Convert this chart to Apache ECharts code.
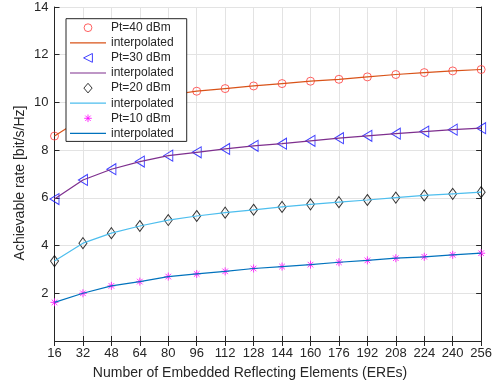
<!DOCTYPE html>
<html>
<head>
<meta charset="utf-8">
<script src="https://cdn.jsdelivr.net/npm/echarts@6/dist/echarts.min.js"></script>
<style>html,body{margin:0;padding:0;background:#fff}#c{width:495px;height:388px}</style>
</head>
<body>
<div id="c"></div>
<script>
const elements = [16, 32, 48, 64, 80, 96, 112, 128, 144, 160, 176, 192, 208, 224, 240, 256];
const pt40 = [8.59, 9.35, 9.75, 10.05, 10.3, 10.47, 10.58, 10.69, 10.79, 10.89, 10.97, 11.07, 11.17, 11.25, 11.32, 11.38];
const pt30 = [5.95, 6.75, 7.2, 7.52, 7.77, 7.91, 8.05, 8.18, 8.27, 8.39, 8.5, 8.6, 8.69, 8.78, 8.86, 8.92];
const pt20 = [3.35, 4.1, 4.52, 4.82, 5.07, 5.24, 5.38, 5.5, 5.62, 5.73, 5.82, 5.91, 6.01, 6.1, 6.17, 6.24];
const pt10 = [1.62, 2.0, 2.31, 2.49, 2.7, 2.81, 2.92, 3.04, 3.12, 3.2, 3.3, 3.38, 3.47, 3.53, 3.61, 3.68];
const seriesNames = ['Pt=40 dBm', 'Pt=30 dBm', 'Pt=20 dBm', 'Pt=10 dBm'];
const lineName = 'interpolated';
const xTitle = 'Number of Embedded Reflecting Elements (EREs)';
const yTitle = 'Achievable rate [bit/s/Hz]';

const FONT = '"Liberation Sans", Arial, Helvetica, sans-serif';
const AX = '#262626';
const pair = arr => elements.map((x, i) => [x, arr[i]]);

const markerDefs = [
  {data: pt40, symbol: 'circle', size: 8, color: '#ff3b3b', line: '#D95319',
    icon: 'path://M0,0 M10,10 M1.1,5 A3.9,3.9 0 1,1 8.9,5 A3.9,3.9 0 1,1 1.1,5 Z'},
  {data: pt30, symbol: 'path://M0,5 L8,0 L8,10 Z', size: [9, 11], color: '#1010ff', line: '#7E2F8E',
    icon: 'path://M0,0 M10,10 M0.6,5 L9.4,0.6 L9.4,9.4 Z'},
  {data: pt20, symbol: 'path://M4,0 L8,5.5 L4,11 L0,5.5 Z', size: [8, 11], color: '#000000', line: '#4DBEEE',
    icon: 'path://M0,0 M10,10 M5,0.2 L9.1,5 L5,9.8 L0.9,5 Z'},
  {data: pt10, symbol: 'path://M5,0 L5,10 M0,5 L10,5 M1.5,1.5 L8.5,8.5 M1.5,8.5 L8.5,1.5', size: 8, color: '#ff00ff', line: '#0072BD',
    icon: 'path://M0,0 M10,10 M5,1.2 L5,8.8 M1.2,5 L8.8,5 M2.3,2.3 L7.7,7.7 M2.3,7.7 L7.7,2.3'}
];
const LINE_ICON = 'path://M0,0 L36,0 L36,1.2 L0,1.2 Z';

const series = [];
const legendData = [];
markerDefs.forEach((d, i) => {
  const lname = lineName + '\u200b'.repeat(i + 1);
  series.push({
    name: seriesNames[i], type: 'scatter', data: pair(d.data),
    symbol: d.symbol, symbolSize: d.size, z: 3,
    itemStyle: {color: 'rgba(0,0,0,0)', borderColor: d.color, borderWidth: 1}
  });
  series.push({
    name: lname, type: 'line', data: pair(d.data), symbol: 'none', z: 4,
    lineStyle: {color: d.line, width: 1.2}, itemStyle: {color: d.line}
  });
  legendData.push(
    {name: seriesNames[i], icon: d.icon, itemStyle: {borderWidth: 1, borderColor: d.color, color: 'rgba(0,0,0,0)'}},
    {name: lname, icon: LINE_ICON, itemStyle: {borderWidth: 0, color: d.line}}
  );
});

const chart = echarts.init(document.getElementById('c'), null, {renderer: 'canvas'});
chart.setOption({
  animation: false,
  backgroundColor: '#fff',
  textStyle: {fontFamily: FONT},
  grid: {left: 54.5, right: 11.5, top: 7, bottom: 47, containLabel: false},
  xAxis: [
    {type: 'value', min: 16, max: 256, interval: 16, position: 'bottom',
      axisLine: {lineStyle: {color: AX, width: 1}},
      axisTick: {inside: true, length: 5, lineStyle: {color: AX}},
      axisLabel: {color: AX, fontSize: 13, margin: 6, fontFamily: FONT},
      splitLine: {show: true, lineStyle: {color: '#e3e3e3', width: 1}}},
    {type: 'value', min: 16, max: 256, interval: 16, position: 'top',
      axisLine: {lineStyle: {color: AX, width: 1}},
      axisTick: {inside: true, length: 5, lineStyle: {color: AX}},
      axisLabel: {show: false}, splitLine: {show: false}}
  ],
  yAxis: [
    {type: 'value', min: 0, max: 14, interval: 2, position: 'left',
      axisLine: {show: true, lineStyle: {color: AX, width: 1}},
      axisTick: {show: true, inside: true, length: 5, lineStyle: {color: AX}},
      axisLabel: {color: AX, fontSize: 13, margin: 6, fontFamily: FONT, formatter: v => v === 0 ? '' : String(v)},
      splitLine: {show: true, lineStyle: {color: '#e3e3e3', width: 1}}},
    {type: 'value', min: 0, max: 14, interval: 2, position: 'right',
      axisLine: {show: true, lineStyle: {color: AX, width: 1}},
      axisTick: {show: true, inside: true, length: 5, lineStyle: {color: AX}},
      axisLabel: {show: false}, splitLine: {show: false}}
  ],
  legend: {
    data: legendData, orient: 'vertical', left: 66, top: 18.7,
    itemWidth: 36, itemHeight: 10, itemGap: 1.1,
    padding: [2, 13, 1, 4],
    itemStyle: {borderWidth: 1},
    backgroundColor: '#fff', borderColor: AX, borderWidth: 1, borderRadius: 0,
    textStyle: {fontSize: 12, lineHeight: 14, color: AX, fontFamily: FONT},
    formatter: n => n.replace(/\u200b/g, ''),
    selectedMode: false, z: 10
  },
  graphic: [
    {type: 'text', x: 250, y: 373, style: {text: xTitle, fontSize: 14, fontFamily: FONT, fill: AX, textAlign: 'center', textVerticalAlign: 'middle'}},
    {type: 'text', x: 20, y: 183, rotation: Math.PI / 2, style: {text: yTitle, fontSize: 14, fontFamily: FONT, fill: AX, textAlign: 'center', textVerticalAlign: 'middle'}}
  ],
  series: series
});
</script>
</body>
</html>
